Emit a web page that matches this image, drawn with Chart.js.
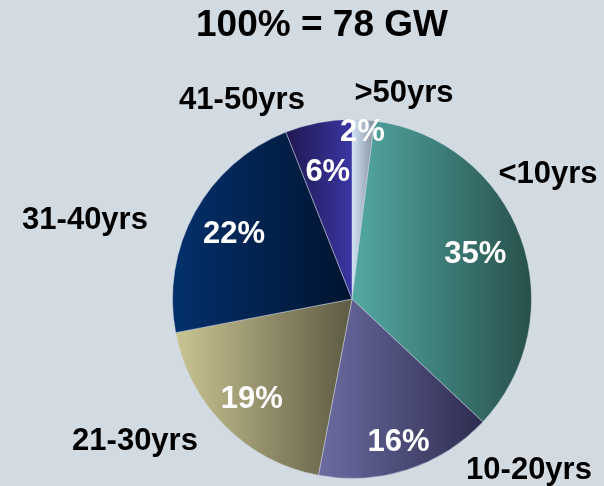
<!DOCTYPE html>
<html>
<head>
<meta charset="utf-8">
<script src="https://cdn.jsdelivr.net/npm/chart.js@4.4.1/dist/chart.umd.min.js"></script>
<style>
  html, body { margin: 0; padding: 0; background: #d3dbe2; }
  canvas { display: block; }
</style>
</head>
<body>
<canvas id="ageChart" width="604" height="486"></canvas>
<script>
const ageGroups = ['>50yrs', '<10yrs', '10-20yrs', '21-30yrs', '31-40yrs', '41-50yrs'];
const shares = [2, 35, 16, 19, 22, 6];
const totalLabel = '100% = 78 GW';

// each slice is shaded left -> right across its own width
const shadeFrom = ['#d2e3f6', '#53a9a3', '#6c6ca2', '#cac592', '#03306c', '#201852'];
const shadeTo = ['#858f9c', '#28504c', '#2d2d50', '#5d5a44', '#00142f', '#3a36a2'];

// percentages sit on the slice's mid angle, at this fraction of the radius
const valueRadius = [0.93, 0.73, 0.84, 0.79, 0.75, 0.72];
// group names sit outside the pie, offset from its centre
const nameOffset = [[52, -206], [196, -125], [177, 171], [-217, 142], [-267, -79], [-110, -199]];

const FONT = '"Liberation Sans", Arial, sans-serif';

// x extent of a sector, angles in canvas radians
function sectorSpan(cx, r, a0, a1) {
  const xs = [cx, cx + r * Math.cos(a0), cx + r * Math.cos(a1)];
  for (let k = -2; k <= 4; k++) {
    const a = k * Math.PI;
    if (a > a0 && a < a1) xs.push(cx + r * Math.cos(a));
  }
  return [Math.min(...xs), Math.max(...xs)];
}

function sliceFill(c) {
  const i = c.dataIndex;
  const area = c.chart.chartArea;
  if (i === undefined || !area) return shadeFrom[0];
  const total = shares.reduce((s, v) => s + v, 0);
  const before = shares.slice(0, i).reduce((s, v) => s + v, 0);
  const a0 = -Math.PI / 2 + 2 * Math.PI * before / total;
  const a1 = a0 + 2 * Math.PI * shares[i] / total;
  const cx = (area.left + area.right) / 2;
  const r = Math.min(area.right - area.left, area.bottom - area.top) / 2;
  const [x0, x1] = sectorSpan(cx, r, a0, a1);
  const g = c.chart.ctx.createLinearGradient(x0, 0, x1, 0);
  g.addColorStop(0, shadeFrom[i]);
  g.addColorStop(1, shadeTo[i]);
  return g;
}

const pieText = {
  id: 'pieText',
  afterDatasetsDraw(chart) {
    const ctx = chart.ctx;
    ctx.save();
    ctx.textAlign = 'center';
    ctx.textBaseline = 'middle';

    ctx.fillStyle = '#000';
    ctx.font = 'bold 37px ' + FONT;
    ctx.fillText(totalLabel, 322, 26);

    chart.getDatasetMeta(0).data.forEach((arc, i) => {
      const p = arc.getProps(['x', 'y', 'startAngle', 'endAngle', 'outerRadius'], true);
      const mid = (p.startAngle + p.endAngle) / 2;
      const rr = p.outerRadius * valueRadius[i];
      ctx.font = 'bold 31px ' + FONT;
      ctx.fillStyle = '#fff';
      ctx.fillText(shares[i] + '%', p.x + rr * Math.cos(mid), p.y + rr * Math.sin(mid));
      ctx.fillStyle = '#000';
      ctx.fillText(ageGroups[i], p.x + nameOffset[i][0], p.y + nameOffset[i][1]);
    });
    ctx.restore();
  }
};

new Chart(document.getElementById('ageChart'), {
  type: 'pie',
  data: {
    labels: ageGroups,
    datasets: [{
      data: shares,
      backgroundColor: sliceFill,
      borderColor: 'rgba(210,220,230,0.45)',
      borderWidth: 1
    }]
  },
  options: {
    responsive: false,
    animation: false,
    layout: { padding: { top: 119, bottom: 7, left: 172, right: 72 } },
    plugins: {
      legend: { display: false },
      tooltip: { enabled: false },
      title: { display: false }
    }
  },
  plugins: [pieText]
});
</script>
</body>
</html>
